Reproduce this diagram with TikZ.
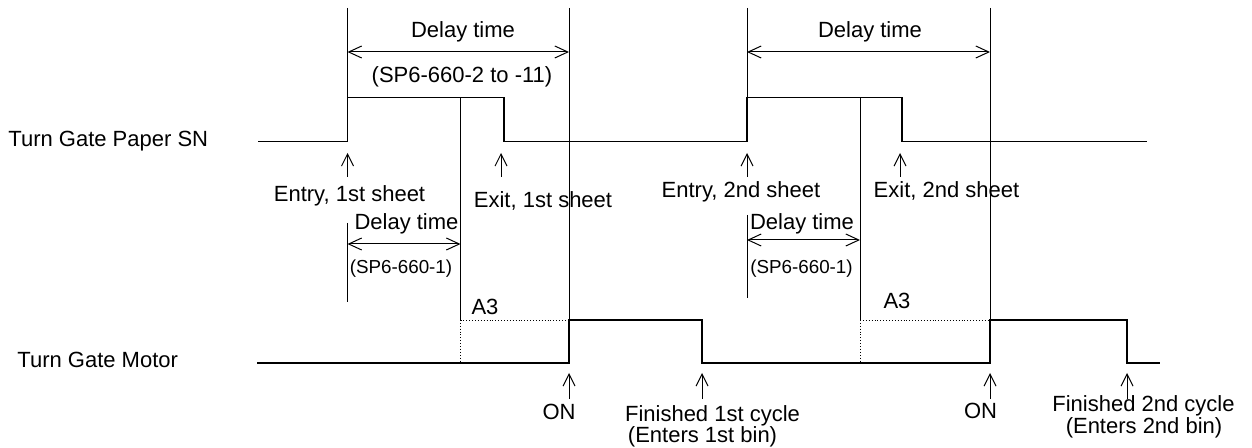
\documentclass[tikz,border=0pt]{standalone}
\usepackage{fontspec}
\setmainfont{Liberation Sans}
\usetikzlibrary{arrows.meta}
\tikzset{
  sig/.style={line width=0.7pt},
  guide/.style={line width=0.5pt},
  dots/.style={line width=0.45pt,densely dotted},
  span/.style={line width=0.5pt,
               {Straight Barb[length=6.5pt,width=6pt]}-{Straight Barb[length=6.5pt,width=6pt]}},
  evt/.style={line width=0.5pt,-{Straight Barb[length=6pt,width=6pt]}},
  lab/.style={font=\fontsize{11}{13}\selectfont,inner sep=0pt,anchor=base},
  sub/.style={lab,font=\fontsize{9.4}{11}\selectfont},
}

\begin{document}
\begin{tikzpicture}[x=0.5pt,y=-0.5pt]
  \useasboundingbox (0,0) rectangle (1252,448);
  % --- event times and levels ---
  \foreach \n/\t in {ent1/347.5,dl1/460.5,ext1/504,on1/569,fin1/702,
                     ent2/747,dl2/860,ext2/902,on2/990,fin2/1127}
    \coordinate (\n) at (\t,0);
  \coordinate (top) at (0,8);
  \coordinate (snHi) at (0,97.5);
  \coordinate (snLo) at (0,141.5);
  \coordinate (mHi) at (0,320);
  \coordinate (mLo) at (0,363);
  \coordinate (dtop) at (0,52);
  % --- signal names ---
  \node[lab,anchor=base west] (snlab) at (8,146.5) {Turn Gate Paper SN};
  \node[lab,anchor=base west] (mlab) at (17,368) {Turn Gate Motor};
  % --- waveforms ---
  \draw[sig] (258,141.5) -- (ent1 |- snLo) -- (ent1 |- snHi) -- (ext1 |- snHi)
    -- (ext1 |- snLo) -- (ent2 |- snLo) -- (ent2 |- snHi) -- (ext2 |- snHi)
    -- (ext2 |- snLo) -- (1147,141.5);
  \draw[sig] (257,363) -- (on1 |- mLo) -- (on1 |- mHi) -- (fin1 |- mHi)
    -- (fin1 |- mLo) -- (on2 |- mLo) -- (on2 |- mHi) -- (fin2 |- mHi)
    -- (fin2 |- mLo) -- (1160,363);
  % --- guide lines ---
  \foreach \a/\b in {ent1/snLo,on1/mLo,ent2/snLo,on2/mLo}
    \draw[guide] (\a |- top) -- (\a |- \b);
  \foreach \d/\o in {dl1/on1,dl2/on2} {
    \draw[guide] (\d |- snHi) -- (\d |- mHi);
    \draw[dots] (\d |- mHi) -- (\d |- mLo);
    \draw[dots] (\d |- mHi) -- (\o |- mHi);
  }
  \draw[guide] (347.5,223) -- (347.5,302.5);
  \draw[guide] (747,215) -- (747,298);
  % --- delay spans ---
  \draw[span] (ent1 |- dtop) -- (on1 |- dtop);
  \draw[span] (ent2 |- dtop) -- (on2 |- dtop);
  \draw[span] (347.5,244) -- (dl1 |- 0,244);
  \draw[span] (747,240) -- (dl2 |- 0,240);
  \node[lab] (dt1) at (463,38) {Delay time};
  \node[lab] (sp1) at (462,83) {(SP6-660-2 to -11)};
  \node[lab] (dt2) at (870,38) {Delay time};
  \node[lab] (ds1) at (406.5,230) {Delay time};
  \node[sub] (ss1) at (401,274) {(SP6-660-1)};
  \node[lab] (ds2) at (802,230) {Delay time};
  \node[sub] (ss2) at (801.5,274) {(SP6-660-1)};
  \node[lab] (a31) at (485,315) {A3};
  \node[lab] (a32) at (897,309) {A3};
  % --- event marks ---
  \foreach \x in {347.5,501,747,900}
    \draw[evt] (\x,177) -- (\x,153);
  \foreach \x in {569,702,990,1127}
    \draw[evt] (\x,399) -- (\x,373);
  \node[lab] (ent1lab) at (349.5,201.5) {Entry, 1st sheet};
  \node[lab] (ext1lab) at (543,207.5) {Exit, 1st sheet};
  \node[lab] (ent2lab) at (741,198) {Entry, 2nd sheet};
  \node[lab] (ext2lab) at (946.5,198) {Exit, 2nd sheet};
  \node[lab] (on1lab) at (559,420) {ON};
  \node[lab] (on2lab) at (980.5,418) {ON};
  \node[lab] (fin1a) at (712.5,421.5) {Finished 1st cycle};
  \node[lab] (fin1b) at (702.5,443) {(Enters 1st bin)};
  \node[lab] (fin2a) at (1143.5,411.5) {Finished 2nd cycle};
  \node[lab] (fin2b) at (1144,433) {(Enters 2nd bin)};
\end{tikzpicture}
\end{document}
